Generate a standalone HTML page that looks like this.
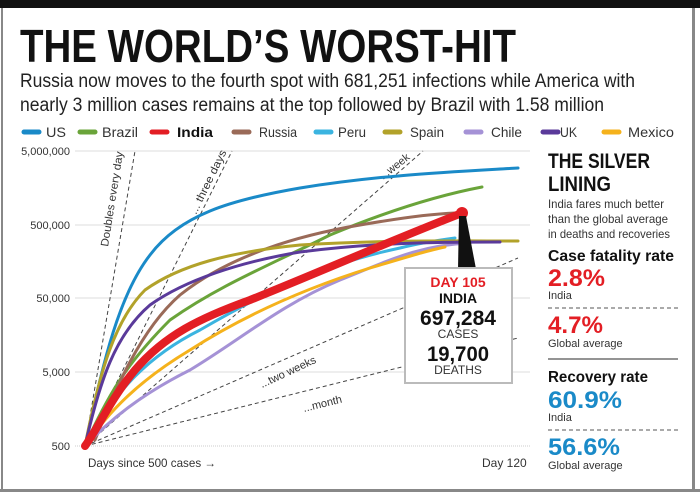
<!DOCTYPE html>
<html><head><meta charset="utf-8"><style>
html,body{margin:0;padding:0;background:#fff}
svg{display:block}
text{font-family:"Liberation Sans",sans-serif}
</style></head><body>
<svg width="700" height="495" viewBox="0 0 700 495" xmlns="http://www.w3.org/2000/svg">
<rect x="0" y="0" width="700" height="495" fill="#fff"/>
<rect x="0" y="0" width="700" height="8" fill="#111"/>
<rect x="1" y="8" width="2" height="484" fill="#888"/>
<rect x="692" y="8" width="3" height="484" fill="#888"/>
<rect x="0" y="489" width="700" height="3" fill="#888"/>

<text x="20" y="62" font-size="46" font-weight="bold" textLength="496" lengthAdjust="spacingAndGlyphs" fill="#111">THE WORLD’S WORST-HIT</text>
<text x="20" y="87" font-size="19" textLength="615" lengthAdjust="spacingAndGlyphs" fill="#222">Russia now moves to the fourth spot with 681,251 infections while America with</text>
<text x="20" y="111" font-size="19" textLength="584" lengthAdjust="spacingAndGlyphs" fill="#222">nearly 3 million cases remains at the top followed by Brazil with 1.58 million</text>

<g font-size="14" fill="#333" stroke-linecap="round">
<line x1="24" y1="132" x2="39" y2="132" stroke="#1a8ac8" stroke-width="5"/><text x="46" y="137" textLength="20" lengthAdjust="spacingAndGlyphs">US</text>
<line x1="80" y1="132" x2="95" y2="132" stroke="#6aa43a" stroke-width="5"/><text x="102" y="137" textLength="36" lengthAdjust="spacingAndGlyphs">Brazil</text>
<line x1="152" y1="132" x2="167" y2="132" stroke="#e31e24" stroke-width="5"/><text x="177" y="137" font-weight="bold" textLength="36" lengthAdjust="spacingAndGlyphs" fill="#111">India</text>
<line x1="234" y1="132" x2="249" y2="132" stroke="#9a6a58" stroke-width="5"/><text x="259" y="137" textLength="38" lengthAdjust="spacingAndGlyphs">Russia</text>
<line x1="316" y1="132" x2="331" y2="132" stroke="#3bb4e0" stroke-width="5"/><text x="338" y="137" textLength="28" lengthAdjust="spacingAndGlyphs">Peru</text>
<line x1="385" y1="132" x2="400" y2="132" stroke="#b2a22a" stroke-width="5"/><text x="410" y="137" textLength="34" lengthAdjust="spacingAndGlyphs">Spain</text>
<line x1="466" y1="132" x2="481" y2="132" stroke="#a592d6" stroke-width="5"/><text x="491" y="137" textLength="31" lengthAdjust="spacingAndGlyphs">Chile</text>
<line x1="543" y1="132" x2="558" y2="132" stroke="#5a3a9a" stroke-width="5"/><text x="560" y="137" textLength="17" lengthAdjust="spacingAndGlyphs">UK</text>
<line x1="604" y1="132" x2="619" y2="132" stroke="#f5b21c" stroke-width="5"/><text x="628" y="137" textLength="46" lengthAdjust="spacingAndGlyphs">Mexico</text>
</g>

<g stroke="#ddd" stroke-width="1">
<line x1="75" y1="151" x2="530" y2="151"/>
<line x1="75" y1="225" x2="530" y2="225"/>
<line x1="75" y1="298" x2="530" y2="298"/>
<line x1="75" y1="372" x2="530" y2="372"/>
<line x1="75" y1="446" x2="530" y2="446" stroke-dasharray="1 1" stroke="#ccc"/>
</g>
<g font-size="11" fill="#333" text-anchor="end">
<text x="70" y="155">5,000,000</text>
<text x="70" y="229">500,000</text>
<text x="70" y="302">50,000</text>
<text x="70" y="376">5,000</text>
<text x="70" y="450">500</text>
</g>
<text x="88" y="467" font-size="12" fill="#333" textLength="128" lengthAdjust="spacingAndGlyphs">Days since 500 cases →</text>
<text x="482" y="467" font-size="12" fill="#333">Day 120</text>

<g stroke="#444" stroke-width="1" stroke-dasharray="4 3" fill="none">
<line x1="85" y1="446" x2="135" y2="151"/>
<line x1="85" y1="446" x2="232" y2="151"/>
<line x1="85" y1="446" x2="423" y2="151"/>
<line x1="85" y1="446" x2="518" y2="258"/>
<line x1="85" y1="446" x2="518" y2="338"/>
</g>
<g font-size="11" fill="#333">
<text transform="translate(108,247) rotate(-81)" textLength="96" lengthAdjust="spacingAndGlyphs">Doubles every day</text>
<text transform="translate(196,215) rotate(-64)" textLength="70" lengthAdjust="spacingAndGlyphs">... three days</text>
<text transform="translate(383,180) rotate(-38)">...week</text>
<text transform="translate(262,388) rotate(-25)">...two weeks</text>
<text transform="translate(304,412) rotate(-14)">...month</text>
</g>

<g fill="none" stroke-linecap="round" stroke-linejoin="round" stroke-width="3">
<path d="M85,446 C100,380 115,300 150,255 C180,215 230,200 300,188 C380,175 450,172 518,168" stroke="#1a8ac8"/>
<path d="M85,446 C110,390 130,360 170,320 C220,285 270,265 330,235 C390,210 440,195 482,187" stroke="#6aa43a"/>
<path d="M95,440 C115,390 140,330 180,295 C230,255 300,235 360,225 C400,218 430,214 455,213" stroke="#9a6a58"/>
<path d="M85,446 C115,390 150,355 200,330 C260,295 320,265 400,248 C420,243 440,240 455,238" stroke="#3bb4e0"/>
<path d="M85,446 C100,370 115,320 145,290 C180,265 230,252 300,245 C380,240 450,241 518,241" stroke="#b2a22a"/>
<path d="M85,446 C110,420 140,395 190,370 C240,340 280,305 340,280 C390,260 420,245 470,243" stroke="#a592d6"/>
<path d="M85,446 C100,380 115,335 150,305 C185,280 240,262 300,252 C370,243 430,242 500,242" stroke="#5a3a9a"/>
<path d="M85,446 C110,410 140,380 190,350 C240,318 300,290 370,268 C410,256 430,250 445,247" stroke="#f5b21c"/>
<path d="M85,446 C100,425 110,400 135,370 C165,335 200,318 250,300 C320,272 380,245 462,213" stroke="#e31e24" stroke-width="8"/>
</g>
<circle cx="462" cy="213" r="6" fill="#e31e24"/>
<polygon points="459,216 466,216 476,269 458,269" fill="#111"/>

<rect x="405" y="268" width="107" height="115" fill="#fff" stroke="#bbb" stroke-width="2"/>
<g text-anchor="middle">
<text x="458" y="287" font-size="14" font-weight="bold" fill="#e31e24">DAY 105</text>
<text x="458" y="303" font-size="14" font-weight="bold" fill="#111">INDIA</text>
<text x="458" y="325" font-size="21" font-weight="bold" fill="#111" textLength="76" lengthAdjust="spacingAndGlyphs">697,284</text>
<text x="458" y="338" font-size="12" fill="#333">CASES</text>
<text x="458" y="361" font-size="21" font-weight="bold" fill="#111" textLength="62" lengthAdjust="spacingAndGlyphs">19,700</text>
<text x="458" y="374" font-size="12" fill="#333">DEATHS</text>
</g>

<g>
<text x="548" y="168" font-size="21" font-weight="bold" fill="#111" textLength="102" lengthAdjust="spacingAndGlyphs">THE SILVER</text>
<text x="548" y="191" font-size="21" font-weight="bold" fill="#111" textLength="63" lengthAdjust="spacingAndGlyphs">LINING</text>
<text x="548" y="208" font-size="12" fill="#333" textLength="116" lengthAdjust="spacingAndGlyphs">India fares much better</text>
<text x="548" y="223" font-size="12" fill="#333" textLength="120" lengthAdjust="spacingAndGlyphs">than the global average</text>
<text x="548" y="238" font-size="12" fill="#333" textLength="122" lengthAdjust="spacingAndGlyphs">in deaths and recoveries</text>
<text x="548" y="261" font-size="16" font-weight="bold" fill="#111" textLength="126" lengthAdjust="spacingAndGlyphs">Case fatality rate</text>
<text x="548" y="286" font-size="24" font-weight="bold" fill="#e31e24" textLength="57" lengthAdjust="spacingAndGlyphs">2.8%</text>
<text x="548" y="299" font-size="11" fill="#333">India</text>
<line x1="548" y1="308" x2="678" y2="308" stroke="#555" stroke-dasharray="4 3"/>
<text x="548" y="333" font-size="24" font-weight="bold" fill="#e31e24" textLength="55" lengthAdjust="spacingAndGlyphs">4.7%</text>
<text x="548" y="347" font-size="11" fill="#333">Global average</text>
<line x1="548" y1="359" x2="678" y2="359" stroke="#555" stroke-width="1.2"/>
<text x="548" y="382" font-size="16" font-weight="bold" fill="#111" textLength="100" lengthAdjust="spacingAndGlyphs">Recovery rate</text>
<text x="548" y="408" font-size="24" font-weight="bold" fill="#1a8ac8" textLength="74" lengthAdjust="spacingAndGlyphs">60.9%</text>
<text x="548" y="421" font-size="11" fill="#333">India</text>
<line x1="548" y1="430" x2="678" y2="430" stroke="#555" stroke-dasharray="4 3"/>
<text x="548" y="455" font-size="24" font-weight="bold" fill="#1a8ac8" textLength="72" lengthAdjust="spacingAndGlyphs">56.6%</text>
<text x="548" y="469" font-size="11" fill="#333">Global average</text>
</g>
</svg>
</body></html>
